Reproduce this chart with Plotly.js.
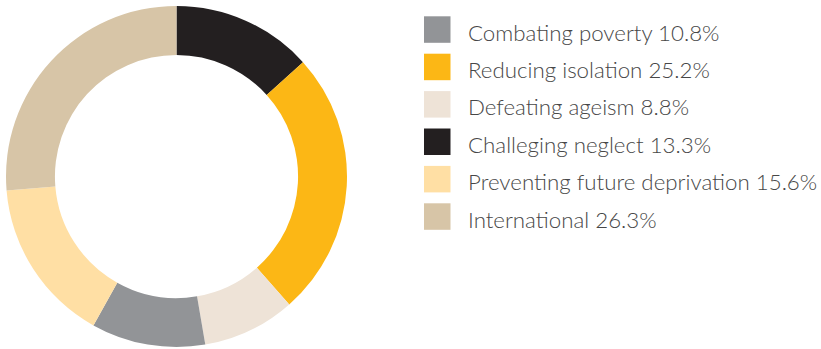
<!DOCTYPE html>
<html>
<head>
<meta charset="utf-8">
<script src="https://cdn.plot.ly/plotly-3.0.1.min.js"></script>
<style>
  html, body { margin: 0; padding: 0; background: #ffffff; }
  #chart { width: 821px; height: 349px; }
</style>
</head>
<body>
<div id="chart"></div>
<script>
// Legend order
const categories = [
  "Combating poverty",
  "Reducing isolation",
  "Defeating ageism",
  "Challeging neglect",
  "Preventing future deprivation",
  "International"
];
const shares = [10.8, 25.2, 8.8, 13.3, 15.6, 26.3];
const colors = ["#929497", "#FCB715", "#EEE3D7", "#231F20", "#FFDFA4", "#D7C5A7"];
// Order of slices around the ring, clockwise from 12 o'clock
const ringOrder = [3, 1, 2, 0, 4, 5];

const pieTrace = {
  type: "pie",
  labels: ringOrder.map(i => categories[i]),
  values: ringOrder.map(i => shares[i]),
  marker: { colors: ringOrder.map(i => colors[i]), line: { width: 0 } },
  hole: 0.713,
  sort: false,
  direction: "clockwise",
  rotation: 0,
  textinfo: "none",
  hoverinfo: "label+percent",
  showlegend: false,
  domain: { x: [6 / 821, 347 / 821], y: [2 / 349, 343 / 349] }
};

const W = 821, H = 349;
const rowTop0 = 16.3, rowStep = 37.4, sw = 26.5, swX = 424;
const shapes = [], annotations = [];
categories.forEach((c, k) => {
  const top = rowTop0 + k * rowStep;
  shapes.push({
    type: "rect", xref: "paper", yref: "paper",
    x0: swX / W, x1: (swX + sw) / W,
    y0: 1 - (top + sw) / H, y1: 1 - top / H,
    fillcolor: colors[k], line: { width: 0 }
  });
  annotations.push({
    xref: "paper", yref: "paper",
    x: 466 / W, y: 1 - (top + sw / 2 + 2.5) / H,
    xanchor: "left", yanchor: "middle",
    text: c + " " + shares[k].toFixed(1) + "%",
    showarrow: false,
    font: { family: "Lato, 'Open Sans', sans-serif", size: 22.3, color: "#474747", weight: 300 }
  });
});

const layout = {
  width: W, height: H,
  margin: { l: 0, r: 0, t: 0, b: 0 },
  paper_bgcolor: "#ffffff",
  plot_bgcolor: "#ffffff",
  showlegend: false,
  shapes: shapes,
  annotations: annotations
};

Plotly.newPlot("chart", [pieTrace], layout, { displayModeBar: false, staticPlot: true });
</script>
</body>
</html>
